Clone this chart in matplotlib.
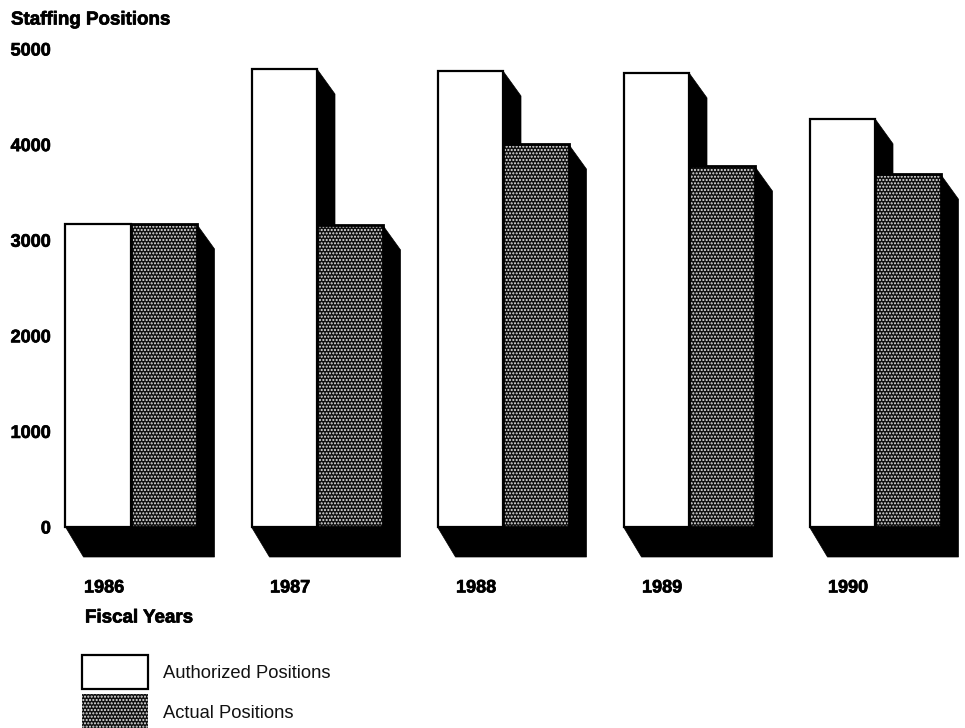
import numpy as np
import matplotlib
matplotlib.use("Agg")
import matplotlib.pyplot as plt
from matplotlib.patches import Polygon
import matplotlib.patheffects as pe

plt.rcParams['font.family'] = ['Liberation Sans', 'DejaVu Sans']
plt.rcParams['hatch.linewidth'] = 1.0

years = ['1986', '1987', '1988', '1989', '1990']
authorized = [3170, 4790, 4770, 4750, 4270]
actual = [3170, 3160, 4005, 3775, 3690]
y_ticks = [0, 1000, 2000, 3000, 4000, 5000]

W, H = 965, 728
# pixel scale of the scan
px_per_group = 186.0
px_per_1000 = 95.6
x0_px, y0_px = 131, 527
bar_w = 65.5 / px_per_group
dx = 18 / px_per_group
dy_top = 25 / px_per_1000 * 1000
dy_floor = 30 / px_per_1000 * 1000
heavy = [pe.withStroke(linewidth=0.5, foreground='black')]

fig = plt.figure(figsize=(W / 100, H / 100), dpi=100)
left, right, top, bottom = 60, 965, 30, 560
ax = fig.add_axes([left / W, 1 - bottom / H, (right - left) / W, (bottom - top) / H])
ax.set_xlim((left - x0_px) / px_per_group, (right - x0_px) / px_per_group)
ax.set_ylim((y0_px - bottom) / px_per_1000 * 1000, (y0_px - top) / px_per_1000 * 1000)
for s in ax.spines.values():
    s.set_visible(False)

x = np.arange(len(years))

for i in x:
    xa, xb = i - bar_w, i + bar_w
    # black floor and right side of the group
    ax.add_patch(Polygon([(xa, 0), (xa + dx, -dy_floor), (xb + dx, -dy_floor),
                          (xb + dx, actual[i] - dy_top), (xb, actual[i]), (xb, 0)],
                         closed=True, fc='black', ec='black', lw=0.5, zorder=1))
    # side of the authorized bar, falls onto the actual bar
    if authorized[i] - actual[i] > dy_top:
        ax.add_patch(Polygon([(i, authorized[i]), (i + dx, authorized[i] - dy_top), (i + dx, actual[i]), (i, actual[i])],
                             closed=True, fc='black', ec='black', lw=0.5, zorder=2.8))

ax.bar(x + bar_w / 2, actual, bar_w, color='#101010', edgecolor='#e6e6e6', hatch='.....', linewidth=0, zorder=2)
ax.bar(x + bar_w / 2, actual, bar_w, fill=False, edgecolor='black', linewidth=2.0, zorder=2.5)
ax.bar(x - bar_w / 2, authorized, bar_w, color='white', edgecolor='black', linewidth=1.6, zorder=3)

ax.set_yticks(y_ticks)
ax.set_xticks(x - 0.145)
ax.set_xticklabels(years)
ax.tick_params(axis='both', length=0, labelsize=13)
ax.tick_params(axis='x', pad=14)
ax.tick_params(axis='y', pad=6.5)
for t in ax.get_xticklabels() + ax.get_yticklabels():
    t.set_fontweight('bold')
    t.set_path_effects(heavy)

fig.text(11 / W, 1 - 20 / H, 'Staffing Positions', fontsize=13.5, fontweight='bold', va='center', path_effects=heavy)
fig.text(85 / W, 1 - 618 / H, 'Fiscal Years', fontsize=13.5, fontweight='bold', va='center', path_effects=heavy)

# legend laid out by hand to sit where the scan has it
ax_leg = fig.add_axes([82 / W, 0, 66 / W, 1 - 654 / H])
ax_leg.set_xlim(0, 1)
ax_leg.set_ylim(74, 0)
ax_leg.axis('off')
ax_leg.add_patch(plt.Rectangle((0, 1), 1, 34, fc='white', ec='black', lw=1.6, clip_on=False))
ax_leg.add_patch(plt.Rectangle((0, 40), 1, 34, fc='#101010', ec='#e6e6e6', hatch='.....', lw=0))
fig.text(163 / W, 1 - 674 / H, 'Authorized Positions', fontsize=13.2, va='center', color='#111111')
fig.text(163 / W, 1 - 714 / H, 'Actual Positions', fontsize=13.2, va='center', color='#111111')

fig.savefig('out.png', dpi=100)
